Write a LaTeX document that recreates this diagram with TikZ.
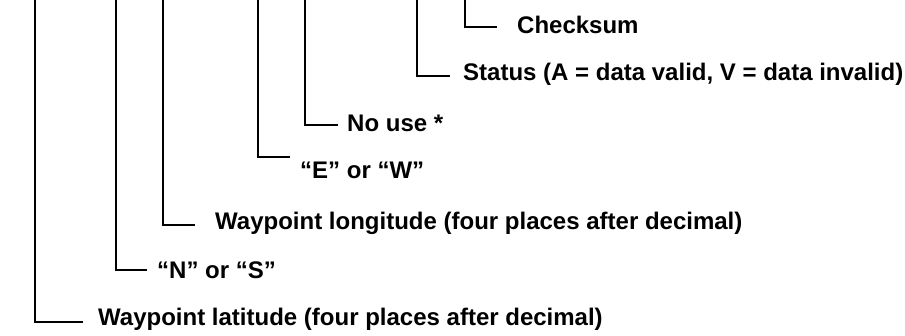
\documentclass[tikz,border=0pt]{standalone}
\usepackage{fontspec}
\setmainfont{Liberation Sans}
\begin{document}
\begin{tikzpicture}[x=1pt,y=-1pt,
  lead/.style={line width=2.7pt, line cap=butt, line join=miter},
  lbl/.style={anchor=west, inner sep=0pt, font=\fontsize{24}{26}\selectfont\bfseries}]
\useasboundingbox (0,0) rectangle (905,335);
% tops of the leader lines (cut off at the top edge)
\coordinate (t1) at (35,0);
\coordinate (t2) at (116,0);
\coordinate (t3) at (163,0);
\coordinate (t4) at (258,0);
\coordinate (t5) at (305,0);
\coordinate (t6) at (417,0);
\coordinate (t7) at (465,0);
% ends of the leader lines
\coordinate (e1) at (83,322);
\coordinate (e2) at (147,270);
\coordinate (e3) at (195,225);
\coordinate (e4) at (290,157);
\coordinate (e5) at (338,125);
\coordinate (e6) at (450,76);
\coordinate (e7) at (497,27);
% labels
\node[lbl] (l1) at (98,319) {Waypoint latitude (four places after decimal)};
\node[lbl] (l2) at (157,270) {“N” or “S”};
\node[lbl] (l3) at (215,223) {Waypoint longitude (four places after decimal)};
\node[lbl] (l4) at (300,170) {“E” or “W”};
\node[lbl] (l5) at (347,123) {No use *};
\node[lbl] (l6) at (463,74) {Status (A = data valid, V = data invalid)};
\node[lbl] (l7) at (517,25) {Checksum};
% leaders
\draw[lead] (t1) |- (e1);
\draw[lead] (t2) |- (e2);
\draw[lead] (t3) |- (e3);
\draw[lead] (t4) |- (e4);
\draw[lead] (t5) |- (e5);
\draw[lead] (t6) |- (e6);
\draw[lead] (t7) |- (e7);
\end{tikzpicture}
\end{document}
